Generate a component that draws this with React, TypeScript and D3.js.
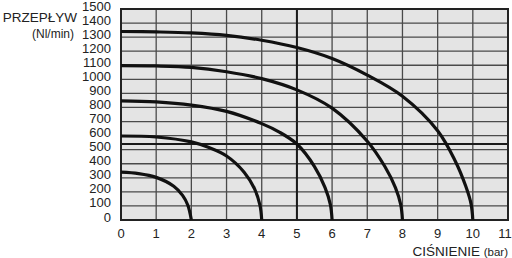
import React from "react";
import * as d3 from "d3";

const xTicks = [0, 1, 2, 3, 4, 5, 6, 7, 8, 9, 10, 11];
const yTicks = [0, 100, 200, 300, 400, 500, 600, 700, 800, 900, 1000, 1100, 1200, 1300, 1400, 1500];

const curve2bar: [number, number][] = [[0, 340], [0.5, 330], [1, 303], [1.5, 240], [1.75, 175], [1.9, 105], [2, 0]];
const curve4bar: [number, number][] = [[0, 597], [1, 590], [2, 555], [2.5, 515], [3, 455], [3.5, 340], [3.8, 220], [3.95, 105], [4, 0]];
const curve6bar: [number, number][] = [[0, 847], [1, 840], [2, 817], [3, 772], [4, 685], [4.5, 625], [5, 540], [5.5, 380], [5.8, 230], [5.95, 110], [6, 0]];
const curve8bar: [number, number][] = [[0, 1097], [1, 1095], [2, 1085], [3, 1054], [4, 1005], [5, 925], [6, 795], [7, 560], [7.5, 380], [7.8, 230], [7.95, 110], [8, 0]];
const curve10bar: [number, number][] = [[0, 1340], [1, 1337], [2, 1330], [3, 1313], [4, 1278], [5, 1226], [6, 1148], [7, 1030], [8, 880], [9, 635], [9.5, 420], [9.8, 240], [9.95, 115], [10, 0]];
const curves = [curve2bar, curve4bar, curve6bar, curve8bar, curve10bar];

const refX = 5;
const refY = 540;

export default function App() {
  const left = 121, right = 508, top = 9, bottom = 220;
  const x = d3.scaleLinear().domain([0, 11]).range([left, right]);
  const y = d3.scaleLinear().domain([0, 1500]).range([bottom, top]);
  const line = d3.line<[number, number]>().x(d => x(d[0])).y(d => y(d[1])).curve(d3.curveCatmullRom.alpha(0.5));
  const font = "'Liberation Sans', Arial, sans-serif";
  return (
    <svg width={512} height={258} style={{ position: "absolute", left: 0, top: 0, background: "#fff" }} fontFamily={font}>
      <rect x={left} y={top} width={right - left} height={bottom - top} fill="#e4e4e4" />
      {yTicks.map(t => (
        <line key={"h" + t} x1={left} x2={right} y1={y(t)} y2={y(t)} stroke="#4a4a4a" strokeWidth={1.3} />
      ))}
      {xTicks.map(t => (
        <line key={"v" + t} x1={x(t)} x2={x(t)} y1={top} y2={bottom} stroke="#4a4a4a" strokeWidth={1.3} />
      ))}
      <line x1={x(refX)} x2={x(refX)} y1={top} y2={bottom} stroke="#1a1a1a" strokeWidth={2} />
      <line x1={left} x2={right} y1={y(refY)} y2={y(refY)} stroke="#1a1a1a" strokeWidth={2} />
      <rect x={left} y={top} width={right - left} height={bottom - top} fill="none" stroke="#222" strokeWidth={2} />
      {curves.map((c, i) => (
        <path key={i} d={line(c) || ""} fill="none" stroke="#111" strokeWidth={3.2} />
      ))}
      {yTicks.map(t => (
        <text key={"yl" + t} x={111} y={y(t) + 1.5} textAnchor="end" fontSize={13} fill="#222">{t}</text>
      ))}
      {xTicks.map(t => (
        <text key={"xl" + t} x={t === 11 ? 505 : x(t)} y={238} textAnchor="middle" fontSize={13} fill="#222">{t}</text>
      ))}
      <text x={77} y={21.5} textAnchor="end" fontSize={13.5} fill="#222">PRZEPŁYW</text>
      <text x={74} y={37.5} textAnchor="end" fontSize={12} fill="#222">(Nl/min)</text>
      <text x={508} y={256} textAnchor="end" fill="#222">
        <tspan fontSize={13.5}>CIŚNIENIE </tspan>
        <tspan fontSize={11.5}>(bar)</tspan>
      </text>
    </svg>
  );
}
